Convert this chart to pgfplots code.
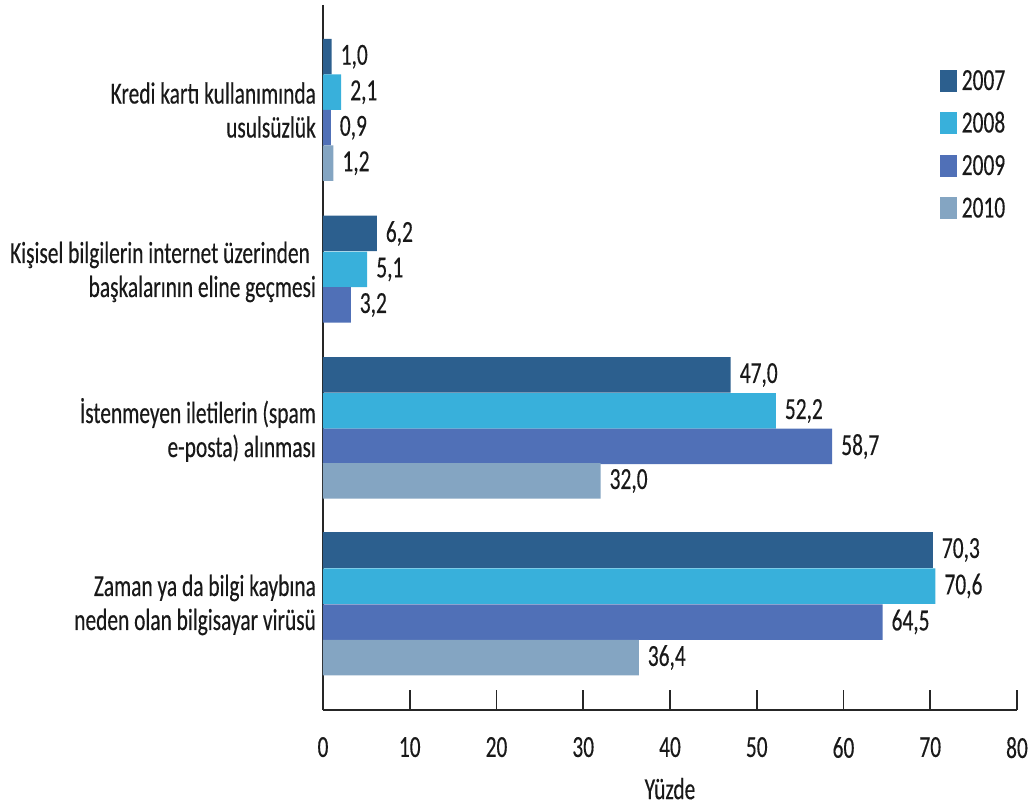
\documentclass[border=0pt]{standalone}
\usepackage{fontspec}
\setmainfont{Carlito}[FakeStretch=0.70, FakeBold=0.3]
\usepackage{pgfplots}
\pgfplotsset{compat=1.18}
\definecolor{cA}{RGB}{44,95,142}
\definecolor{cB}{RGB}{56,176,219}
\definecolor{cC}{RGB}{80,112,183}
\definecolor{cD}{RGB}{132,165,194}
\definecolor{txt}{RGB}{25,25,25}
\newcommand\cf{\fontsize{15.3}{17}\selectfont}
\begin{document}
\begin{tikzpicture}
\begin{axis}[
 scale only axis, width=347pt, height=352.5pt,
 xmin=0, xmax=80, ymin=5, ymax=710, y dir=reverse,
 xbar, bar width=35.5, bar shift=0pt,
 axis x line*=bottom, axis y line*=left,
 axis line style={line width=1pt, color=black!85, -},
 xtick={0,10,...,80}, tick align=inside, major tick length=10pt,
 xtick style={line width=0.8pt, color=black!85},
 ytick={110,272,430,605}, ytick style={draw=none},
 yticklabels={{Kredi kartı kullanımında\\usulsüzlük},{Kişisel bilgilerin internet üzerinden\hspace*{3pt}\\başkalarının eline geçmesi},{İstenmeyen iletilerin (spam\\e-posta) alınması},{Zaman ya da bilgi kaybına\\neden olan bilgisayar virüsü}},
 yticklabel style={align=right, font=\cf, text=txt},
 xticklabel style={font=\cf, text=txt, yshift=-10pt},
 /pgf/number format/assume math mode=true,
 xlabel={Yüzde}, xlabel style={font=\cf, text=txt, yshift=-3pt},
 nodes near coords={\pgfmathprintnumber[fixed,fixed zerofill,precision=1,use comma]{\pgfplotspointmeta}},
 every node near coord/.append style={font=\cf, text=txt, xshift=1pt},
 legend style={at={(axis cs:71.1,70)}, anchor=north west, draw=none, fill=none, inner sep=0pt, outer sep=0pt, font=\cf, text=txt, row sep=10.25pt, nodes={inner sep=0pt, text height=9pt, text depth=0pt}, /tikz/every odd column/.append style={column sep=2.5pt}},
 legend cell align=left,
]
\addplot[fill=cA, draw=none, legend image code/.code={\fill[cA] (0pt,-5.5pt) rectangle (8.5pt,5.5pt);}] coordinates {(1.0,56.75) (6.2,233.5) (47.0,375) (70.3,550)};
\addplot[fill=cB, draw=none, legend image code/.code={\fill[cB] (0pt,-5.5pt) rectangle (8.5pt,5.5pt);}] coordinates {(2.1,92.25) (5.1,269.5) (52.2,411) (70.6,586)};
\addplot[fill=cC, draw=none, legend image code/.code={\fill[cC] (0pt,-5.5pt) rectangle (8.5pt,5.5pt);}] coordinates {(0.9,127.75) (3.2,305) (58.7,446.5) (64.5,622)};
\addplot[fill=cD, draw=none, legend image code/.code={\fill[cD] (0pt,-5.5pt) rectangle (8.5pt,5.5pt);}] coordinates {(1.2,163.25) (32.0,481) (36.4,657.5)};
\legend{2007,2008,2009,2010}
\end{axis}
\pgfresetboundingbox
\useasboundingbox (-161.5pt,-48.5pt) rectangle (355.5pt,355pt);
\end{tikzpicture}
\end{document}
